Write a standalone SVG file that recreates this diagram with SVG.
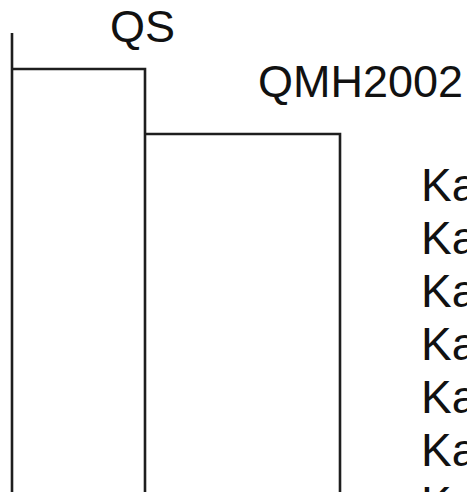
<svg xmlns="http://www.w3.org/2000/svg" width="467" height="492" viewBox="0 0 467 492">
<style>
.edge{fill:none;stroke:#1e1e1e;stroke-width:2.6;stroke-linecap:butt;stroke-linejoin:miter}
.lbl{font-family:"Liberation Sans",Arial,sans-serif;font-size:45px;fill:#111}
.leaf{font-family:"Liberation Sans",Arial,sans-serif;font-size:46px;fill:#111}
</style>
<rect width="467" height="492" fill="#ffffff"/>
<g id="connectors">
<path class="edge" d="M12,33 V492"/>
<path class="edge" d="M12,69 H145 V492"/>
<path class="edge" d="M145,134 H340 V492"/>
</g>
<g id="node-QS"><text class="lbl" x="110" y="42">QS</text></g>
<g id="node-QMH2002"><text class="lbl" x="258" y="97">QMH2002</text></g>
<g id="leaves">
<text class="leaf" x="421" y="201">Ka</text>
<text class="leaf" x="421" y="254">Ka</text>
<text class="leaf" x="421" y="307">Ka</text>
<text class="leaf" x="421" y="360">Ka</text>
<text class="leaf" x="421" y="413">Ka</text>
<text class="leaf" x="421" y="466">Ka</text>
<text class="leaf" x="421" y="519">Ka</text>
</g>
</svg>
